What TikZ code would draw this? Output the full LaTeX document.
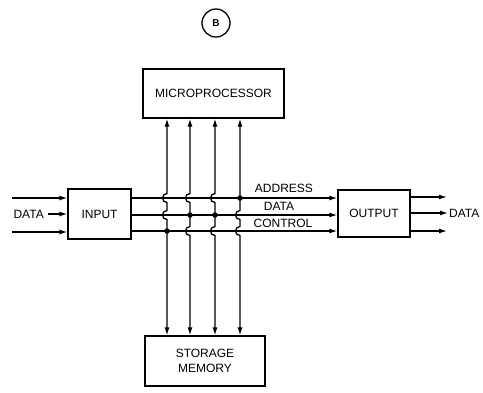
\documentclass[tikz,border=0pt]{standalone}
\usepackage{fontspec}
\setmainfont{Liberation Sans}
\usetikzlibrary{arrows.meta}
\begin{document}
\begin{tikzpicture}[x=1pt,y=-1pt,
  box/.style={draw,line width=1.2pt,inner sep=0pt,align=center,font=\fontsize{12}{14.5}\selectfont},
  lbl/.style={font=\fontsize{12}{14}\selectfont,inner sep=1pt},
  arr/.style={line width=1.3pt,-{Latex[length=8pt,width=5pt]}},
  vline/.style={line width=1.3pt,{Latex[length=8pt,width=5pt]}-{Latex[length=8pt,width=5pt]}},
  jdot/.style={fill,circle,inner sep=0pt,minimum size=5.5pt}]
\useasboundingbox (0,0) rectangle (483,392);
\node[draw,circle,line width=1.3pt,minimum size=28pt,inner sep=0pt,font=\fontsize{10}{10}\selectfont\bfseries] (tag) at (216,23) {B};
\node[box,minimum width=141pt,minimum height=49pt] (mp) at (213.5,93.5) {MICROPROCESSOR};
\node[box,minimum width=120pt,minimum height=50pt] (sm) at (205,361) {STORAGE\\MEMORY};
\node[box,minimum width=63pt,minimum height=50pt] (inp) at (99.5,214) {INPUT};
\node[box,minimum width=72pt,minimum height=47pt] (outp) at (374,213.5) {OUTPUT};
% bus levels and vertical positions
\coordinate (r1) at (0,198);
\coordinate (r2) at (0,215);
\coordinate (r3) at (0,231);
\coordinate (v1) at (167,0);
\coordinate (v2) at (190,0);
\coordinate (v3) at (215,0);
\coordinate (v4) at (240,0);
% input side
\coordinate (a1) at (12,198);
\coordinate (a3) at (12,232);
\node[lbl,anchor=east] (dl) at (45,214) {DATA};
\draw[arr] (a1) -- (a1 -| inp.west);
\draw[arr] ([xshift=3pt]dl.east) -- (dl.east -| inp.west);
\draw[arr] (a3) -- (a3 -| inp.west);
% buses
\draw[arr] (inp.east |- r1) -- (outp.west |- r1);
\draw[arr] (inp.east |- r2) -- (outp.west |- r2);
\draw[arr] (inp.east |- r3) -- (outp.west |- r3);
\node[lbl] (la) at (284,188) {ADDRESS};
\node[lbl] (ld) at (279,206) {DATA};
\node[lbl] (lc) at (283,223) {CONTROL};
% output side
\coordinate (b1) at (447,197);
\coordinate (b3) at (447,231);
\node[lbl,anchor=west] (dr) at (448,213) {DATA};
\draw[arr] (outp.east |- b1) -- (b1);
\draw[arr] (outp.east |- dr.west) -- (dr.west);
\draw[arr] (outp.east |- b3) -- (b3);
% vertical lines with hops
\draw[vline] (mp.south -| v1) -- (167,193.5) arc[start angle=270,end angle=90,radius=4.5]
  -- (167,210.5) arc[start angle=270,end angle=90,radius=4.5] -- (sm.north -| v1);
\draw[vline] (mp.south -| v2) -- (190,193.5) arc[start angle=270,end angle=90,radius=4.5]
  -- (190,226.5) arc[start angle=270,end angle=90,radius=4.5] -- (sm.north -| v2);
\draw[vline] (mp.south -| v3) -- (215,193.5) arc[start angle=270,end angle=90,radius=4.5]
  -- (215,226.5) arc[start angle=270,end angle=90,radius=4.5] -- (sm.north -| v3);
\draw[vline] (mp.south -| v4) -- (240,210.5) arc[start angle=270,end angle=90,radius=4.5]
  -- (240,226.5) arc[start angle=270,end angle=90,radius=4.5] -- (sm.north -| v4);
% junctions
\node[jdot] (j1) at (v4 |- r1) {};
\node[jdot] (j2) at (v2 |- r2) {};
\node[jdot] (j3) at (v3 |- r2) {};
\node[jdot] (j4) at (v1 |- r3) {};
\end{tikzpicture}
\end{document}
